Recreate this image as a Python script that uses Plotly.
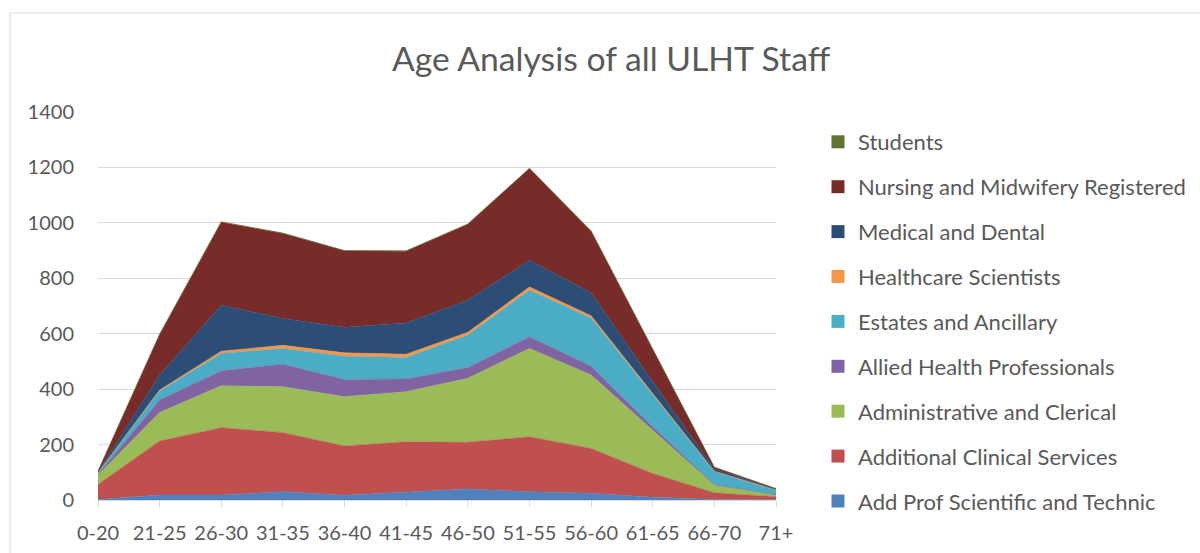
import plotly.graph_objects as go

categories = ["0-20", "21-25", "26-30", "31-35", "36-40", "41-45", "46-50", "51-55", "56-60", "61-65", "66-70", "71+"]

add_prof = [2, 18, 18, 30, 17, 28, 40, 30, 24, 10, 2, 1]
additional_clinical = [54, 195, 243, 213, 178, 182, 168, 198, 162, 86, 24, 11]
admin_clerical = [34, 103, 151, 166, 178, 181, 231, 319, 265, 156, 27, 6]
allied_health = [3, 45, 54, 81, 62, 46, 39, 42, 32, 12, 3, 1]
estates_ancillary = [5, 32, 63, 57, 84, 77, 117, 168, 174, 115, 46, 16]
healthcare_sci = [1, 4, 8, 11, 12, 12, 10, 12, 8, 4, 2, 1]
medical_dental = [2, 54, 166, 97, 92, 113, 116, 96, 83, 44, 8, 3]
nursing = [3, 146, 299, 307, 276, 259, 274, 331, 222, 115, 6, 2]
students = [0, 1, 2, 1, 1, 1, 1, 1, 1, 0, 0, 0]

series = [
    ("Add Prof Scientific and Technic", add_prof, "#4F81BD"),
    ("Additional Clinical Services", additional_clinical, "#C0504D"),
    ("Administrative and Clerical", admin_clerical, "#9BBB59"),
    ("Allied Health Professionals", allied_health, "#8064A2"),
    ("Estates and Ancillary", estates_ancillary, "#4BACC6"),
    ("Healthcare Scientists", healthcare_sci, "#F79646"),
    ("Medical and Dental", medical_dental, "#2C4D75"),
    ("Nursing and Midwifery Registered", nursing, "#772C2A"),
    ("Students", students, "#5F7530"),
]

W, H = 1200, 553
ML, MR, MT, MB = 98, 424, 112, 53
PW = W - ML - MR
PH = H - MT - MB

fig = go.Figure()
xs = list(range(len(categories)))
for name, vals, col in series:
    fig.add_trace(go.Scatter(
        x=xs, y=vals, name=name, stackgroup="one", mode="lines",
        line=dict(width=0.5, color=col), fillcolor=col, showlegend=False,
        hoverinfo="x+y+name",
    ))
# legend entries, top to bottom as in the reference (Students first)
for name, vals, col in reversed(series):
    fig.add_trace(go.Scatter(
        x=[None], y=[None], name=name, mode="markers", legendgroup=name,
        marker=dict(symbol="square", size=13, color=col), showlegend=True,
    ))

grid = "#d9d9d9"
txt = "#595959"
font = "Lato, 'Open Sans', sans-serif"

fig.update_layout(
    width=W, height=H,
    margin=dict(l=ML, r=MR, t=MT, b=MB, pad=0, autoexpand=False),
    paper_bgcolor="white", plot_bgcolor="white",
    font=dict(family=font, color=txt, size=20),
    title=dict(text="Age Analysis of all ULHT Staff", x=611 / W, xanchor="center",
               y=1 - 59 / H, yanchor="middle", font=dict(size=33.7, color=txt, family=font)),
    xaxis=dict(
        tickmode="array", tickvals=xs, ticktext=categories, range=[0, len(categories) - 1],
        showgrid=False, showline=True, linecolor=grid, linewidth=1,
        ticks="outside", ticklen=6, tickcolor=grid, tickfont=dict(size=20, color=txt),
        ticklabelstandoff=9, zeroline=False, fixedrange=True, automargin=False,
    ),
    yaxis=dict(
        range=[0, 1400], tickvals=[0, 200, 400, 600, 800, 1000, 1200, 1400],
        showgrid=True, gridcolor=grid, gridwidth=1, zeroline=False, showline=False,
        ticks="outside", ticklen=19, tickcolor="rgba(0,0,0,0)", tickfont=dict(size=20, color=txt),
        fixedrange=True, automargin=False,
    ),
    legend=dict(
        xref="container", yref="container", x=818 / W, y=1 - 121 / H, xanchor="left", yanchor="top",
        font=dict(size=22, color=txt, family=font), traceorder="grouped",
        tracegroupgap=13.3, bgcolor="rgba(0,0,0,0)", maxheight=1,
    ),
    shapes=[dict(
        type="rect", xref="paper", yref="paper",
        x0=(10 - ML) / PW, x1=(W + 20 - ML) / PW,
        y0=-(H + 20 - (MT + PH)) / PH, y1=(MT + PH - 13) / PH,
        line=dict(color=grid, width=1), fillcolor="rgba(0,0,0,0)", layer="below",
    )],
)

fig.write_html("out.html", config={"displayModeBar": False},
               post_script="document.body.style.margin='0';document.body.style.overflow='hidden';")
